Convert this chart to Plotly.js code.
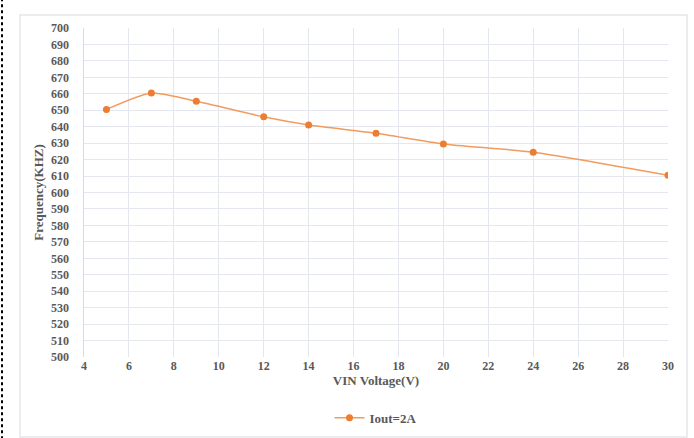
<!DOCTYPE html>
<html>
<head>
<meta charset="utf-8">
<script src="https://cdn.plot.ly/plotly-3.0.1.min.js"></script>
<style>html,body{margin:0;padding:0;background:#fff;}#chart{width:694px;height:438px;}</style>
</head>
<body>
<div id="chart"></div>
<script>
const vin = [5, 7, 9, 12, 14, 17, 20, 24, 30];
const freq = [650.5, 660.5, 655.5, 646, 641, 636, 629.5, 624.5, 610.5];
const seriesName = "Iout=2A";
const xTicks = [4, 6, 8, 10, 12, 14, 16, 18, 20, 22, 24, 26, 28, 30];
const yTicks = [500, 510, 520, 530, 540, 550, 560, 570, 580, 590, 600, 610, 620, 630, 640, 650, 660, 670, 680, 690, 700];

const font = {family: "Liberation Serif, Times New Roman, serif", color: "#595959", size: 12};
const trace = {
  x: vin, y: freq, name: seriesName, type: "scatter", mode: "lines+markers",
  line: {color: "#F29B5E", width: 1.5, shape: "spline", smoothing: 0.6},
  marker: {color: "#ED7D31", size: 7}
};
const layout = {
  width: 694, height: 438,
  margin: {l: 84, r: 26, t: 28, b: 81, autoexpand: false},
  paper_bgcolor: "#fff", plot_bgcolor: "#fff",
  font: font,
  xaxis: {
    range: [4, 30], tickvals: xTicks, ticktext: xTicks.map(String), automargin: false,
    showgrid: true, gridcolor: "#E4E7EE", gridwidth: 1,
    zeroline: false, showline: false, ticks: "",
    tickfont: {family: font.family, color: "#595959", size: 12, weight: "bold"},
    title: {text: "<b>VIN Voltage(V)</b>", font: {family: font.family, color: "#595959", size: 13}, standoff: 3}
  },
  yaxis: {
    range: [500, 700], tickvals: yTicks, ticktext: yTicks.map(String), automargin: false,
    showgrid: true, gridcolor: "#E4E7EE", gridwidth: 1,
    zeroline: false, showline: true, linecolor: "#D5DCE6", linewidth: 1.5,
    ticks: "outside", ticklen: 11, tickcolor: "rgba(0,0,0,0)",
    tickfont: {family: font.family, color: "#595959", size: 12, weight: "bold"},
    title: {text: "<b>Frequency(KHZ)</b>", font: {family: font.family, color: "#595959", size: 13}, standoff: 4}
  },
  showlegend: true,
  legend: {
    orientation: "h", x: 0.5, xanchor: "center", y: -0.185, yanchor: "middle",
    font: {family: font.family, color: "#595959", size: 13, weight: "bold"},
    bgcolor: "rgba(0,0,0,0)"
  },
  shapes: [
    {type: "rect", xref: "paper", yref: "paper", x0: -0.1096, x1: 1.0325, y0: -0.243, y1: 1.0395,
     line: {color: "#E6E6EA", width: 1.5}, fillcolor: "rgba(0,0,0,0)", layer: "below"},
    {type: "line", xref: "paper", yref: "paper", x0: -0.1404, x1: -0.1404, y0: -0.25, y1: 1.09,
     line: {color: "#000", width: 2, dash: "dot"}}
  ]
};
Plotly.newPlot("chart", [trace], layout, {displayModeBar: false, staticPlot: true});
</script>
</body>
</html>
